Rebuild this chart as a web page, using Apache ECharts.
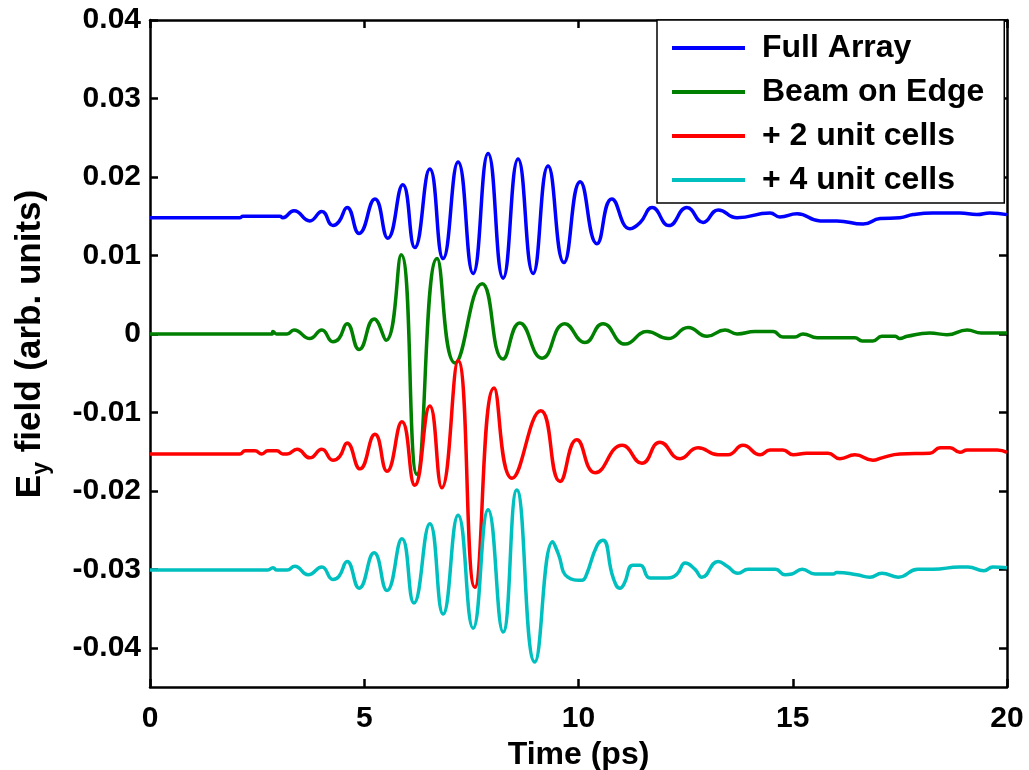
<!DOCTYPE html>
<html>
<head>
<meta charset="utf-8">
<script src="https://cdn.jsdelivr.net/npm/echarts@6/dist/echarts.min.js"></script>
<style>
html,body{margin:0;padding:0;background:#fff;}
#chart{width:1029px;height:770px;}
</style>
</head>
<body>
<div id="chart"></div>
<script>
// Series names
const seriesNames = ['Full Array', 'Beam on Edge', '+ 2 unit cells', '+ 4 unit cells'];

// [time (ps), Ey (arb. units)]
const fullArray = [
  [0,0.0148],[2.10,0.0148],[2.17,0.0150],[3.03,0.0150],[3.10,0.0148],[3.36,0.0157],[3.73,0.0144],
  [4.01,0.0156],[4.27,0.0138],[4.41,0.0143],[4.60,0.0161],[4.88,0.0128],[5.25,0.0172],[5.55,0.0122],
  [5.90,0.0190],[6.18,0.0110],[6.53,0.0210],[6.84,0.0096],[7.19,0.0219],[7.54,0.0077],[7.89,0.0230],
  [8.24,0.0071],[8.59,0.0223],[8.94,0.0077],[9.29,0.0214],[9.66,0.0091],[10.04,0.0194],[10.43,0.0115],
  [10.78,0.0172],[11.20,0.0134],[11.44,0.0142],[11.72,0.0161],[12.11,0.0138],[12.53,0.0161],[12.91,0.0142],
  [13.26,0.0158],[13.70,0.0148],[14.47,0.0154],[14.70,0.0149],[15.10,0.0153],[15.64,0.0144],[16.03,0.0144],
  [16.64,0.0140],[17.04,0.0147],[17.50,0.0148],[17.81,0.0152],[18.27,0.0154],[18.90,0.0154],[19.30,0.0152],
  [19.60,0.0154],[20.0,0.0152]
];
const beamOnEdge = [
  [0,0],[2.85,0],[2.87,0.0003],[2.95,0],[3.20,0],[3.36,0.0005],[3.73,-0.0006],[4.01,0.0005],[4.27,-0.0010],
  [4.41,-0.0006],[4.60,0.0013],[4.88,-0.0020],[5.23,0.0019],[5.51,-0.0008],[5.86,0.0101],[6.23,-0.0179],
  [6.70,0.0096],[7.12,-0.0037],[7.75,0.0064],[8.24,-0.0032],[8.63,0.0014],[9.15,-0.0031],[9.68,0.0013],
  [10.15,-0.0011],[10.57,0.0013],[11.09,-0.0013],[11.60,0.0003],[12.09,-0.0006],[12.56,0.0008],[13.00,-0.0003],
  [13.42,0.0005],[13.70,0],[14.12,0.0003],[14.54,0.0003],[14.77,-0.0004],[15.05,-0.0004],[15.24,0],
  [15.57,-0.0005],[16.45,-0.0005],[16.62,-0.0009],[16.87,-0.0009],[17.08,-0.0003],[17.39,-0.0003],
  [17.50,-0.0006],[17.67,-0.0003],[18.20,0.0001],[18.60,-0.0001],[19.07,0.0005],[19.40,0.0001],[20.0,0.0001]
];
const plus2Cells = [
  [0,-0.0153],[2.10,-0.0153],[2.22,-0.0149],[2.45,-0.0149],[2.61,-0.0153],[2.75,-0.0149],[2.96,-0.0149],
  [3.10,-0.0153],[3.20,-0.0153],[3.43,-0.0147],[3.73,-0.0158],[4.01,-0.0147],[4.27,-0.0161],[4.43,-0.0156],
  [4.60,-0.0139],[4.90,-0.0172],[5.25,-0.0128],[5.53,-0.0175],[5.88,-0.0112],[6.18,-0.0193],[6.53,-0.0092],
  [6.81,-0.0196],[7.19,-0.0034],[7.58,-0.0323],[8.03,-0.0069],[8.45,-0.0184],[9.12,-0.0098],[9.57,-0.0188],
  [9.96,-0.0135],[10.39,-0.0177],[11.02,-0.0142],[11.48,-0.0165],[11.90,-0.0138],[12.37,-0.0159],
  [12.79,-0.0145],[13.26,-0.0154],[13.49,-0.0154],[13.84,-0.0142],[14.24,-0.0154],[14.47,-0.0148],
  [14.77,-0.0148],[15.01,-0.0154],[15.33,-0.0152],[15.82,-0.0152],[16.10,-0.0159],[16.45,-0.0154],
  [16.87,-0.0161],[17.08,-0.0158],[17.50,-0.0153],[18.20,-0.0152],[18.44,-0.0145],[18.67,-0.0145],
  [18.90,-0.0151],[19.07,-0.0148],[19.77,-0.0148],[20.0,-0.0151]
];
const plus4Cells = [
  [0,-0.0301],[2.75,-0.0301],[2.87,-0.0298],[2.96,-0.0301],[3.20,-0.0301],[3.38,-0.0296],[3.69,-0.0307],
  [4.01,-0.0297],[4.27,-0.0313],[4.41,-0.0309],[4.60,-0.0290],[4.88,-0.0324],[5.23,-0.0279],[5.53,-0.0327],
  [5.88,-0.0261],[6.16,-0.0343],[6.53,-0.0242],[6.84,-0.0357],[7.19,-0.0231],[7.54,-0.0375],[7.89,-0.0224],
  [8.24,-0.0380],[8.56,-0.0199],[8.98,-0.0418],[9.40,-0.0265],[9.52,-0.0279],[9.75,-0.0310],[10.08,-0.0314],
  [10.17,-0.0309],[10.43,-0.0270],[10.57,-0.0263],[10.81,-0.0311],[10.97,-0.0324],[11.06,-0.0319],
  [11.27,-0.0295],[11.44,-0.0295],[11.67,-0.0311],[12.07,-0.0311],[12.30,-0.0306],[12.49,-0.0292],
  [12.72,-0.0300],[12.88,-0.0310],[13.26,-0.0290],[13.47,-0.0296],[13.72,-0.0305],[13.96,-0.0300],
  [14.59,-0.0300],[14.82,-0.0307],[14.98,-0.0306],[15.22,-0.0300],[15.52,-0.0306],[15.94,-0.0306],
  [16.03,-0.0304],[16.50,-0.0307],[16.80,-0.0310],[17.08,-0.0305],[17.46,-0.0310],[17.92,-0.0300],
  [18.27,-0.0300],[18.90,-0.0297],[19.09,-0.0297],[19.46,-0.0302],[19.67,-0.0297],[20.0,-0.0298]
];
const seriesData = [fullArray, beamOnEdge, plus2Cells, plus4Cells];
const seriesColors = ['#0000FF', '#008000', '#FF0000', '#00BFBF'];

const xTicks = [0, 5, 10, 15, 20];
const yTicks = [-0.04, -0.03, -0.02, -0.01, 0, 0.01, 0.02, 0.03, 0.04];

const FONT = '"Liberation Sans", Arial, sans-serif';
const chart = echarts.init(document.getElementById('chart'), null, {renderer: 'canvas'});

const axisLineStyle = {color: '#000', width: 2.5};
const tickStyle = {show: true, inside: true, length: 8, lineStyle: {color: '#000', width: 2.5}};

const option = {
  backgroundColor: '#fff',
  animation: false,
  grid: {left: 150, right: 22, top: 20, bottom: 83, containLabel: false, outerBoundsMode: 'none'},
  xAxis: [
    {
      type: 'value', min: 0, max: 20, interval: 5, position: 'bottom',
      axisLine: {show: true, onZero: false, lineStyle: axisLineStyle},
      axisTick: tickStyle,
      splitLine: {show: false},
      axisLabel: {color: '#000', fontFamily: FONT, fontWeight: 'bold', fontSize: 30, margin: 17},
      name: 'Time (ps)', nameLocation: 'middle', nameGap: 47,
      nameTextStyle: {color: '#000', fontFamily: FONT, fontWeight: 'bold', fontSize: 32}
    },
    {
      type: 'value', min: 0, max: 20, interval: 5, position: 'top',
      axisLine: {show: true, onZero: false, lineStyle: axisLineStyle},
      axisTick: tickStyle, axisLabel: {show: false}, splitLine: {show: false}
    }
  ],
  yAxis: [
    {
      type: 'value', min: -0.045, max: 0.04, position: 'left',
      axisLine: {show: true, onZero: false, lineStyle: axisLineStyle},
      axisTick: Object.assign({}, tickStyle, {customValues: yTicks}),
      splitLine: {show: false},
      axisLabel: {
        customValues: yTicks, color: '#000', fontFamily: FONT, fontWeight: 'bold', fontSize: 30, margin: 9,
        formatter: function (v) { return Math.abs(v) < 1e-9 ? '0' : v.toFixed(2); }
      }
    },
    {
      type: 'value', min: -0.045, max: 0.04, position: 'right',
      axisLine: {show: true, onZero: false, lineStyle: axisLineStyle},
      axisTick: Object.assign({}, tickStyle, {customValues: yTicks}),
      axisLabel: {show: false}, splitLine: {show: false}
    }
  ],
  legend: {
    orient: 'vertical', left: 657, top: 20,
    backgroundColor: '#fff', borderColor: '#000', borderWidth: 1.5,
    padding: [11, 20, 6, 15],
    icon: 'rect', itemWidth: 73, itemHeight: 4, itemGap: 10,
    textStyle: {color: '#000', fontFamily: FONT, fontWeight: 'bold', fontSize: 32, lineHeight: 34, padding: [0, 0, 0, 12]},
    data: seriesNames
  },
  graphic: [{
    type: 'text', x: 30, y: 344, rotation: Math.PI / 2,
    style: {
      text: '{e|E}{s|y}{e| field (arb. units)}',
      fill: '#000', align: 'center', verticalAlign: 'middle',
      rich: {
        e: {fontFamily: FONT, fontWeight: 'bold', fontSize: 35, fill: '#000'},
        s: {fontFamily: FONT, fontWeight: 'bold', fontSize: 23, fill: '#000', padding: [24, 0, 0, 0]}
      }
    }
  }],
  series: seriesData.map(function (d, i) {
    return {
      name: seriesNames[i], type: 'line', data: d, xAxisIndex: 0, yAxisIndex: 0,
      symbol: 'none', smooth: 0.5,
      lineStyle: {color: seriesColors[i], width: 3.5},
      itemStyle: {color: seriesColors[i]},
      z: 2 + i
    };
  })
};
chart.setOption(option);
</script>
</body>
</html>
